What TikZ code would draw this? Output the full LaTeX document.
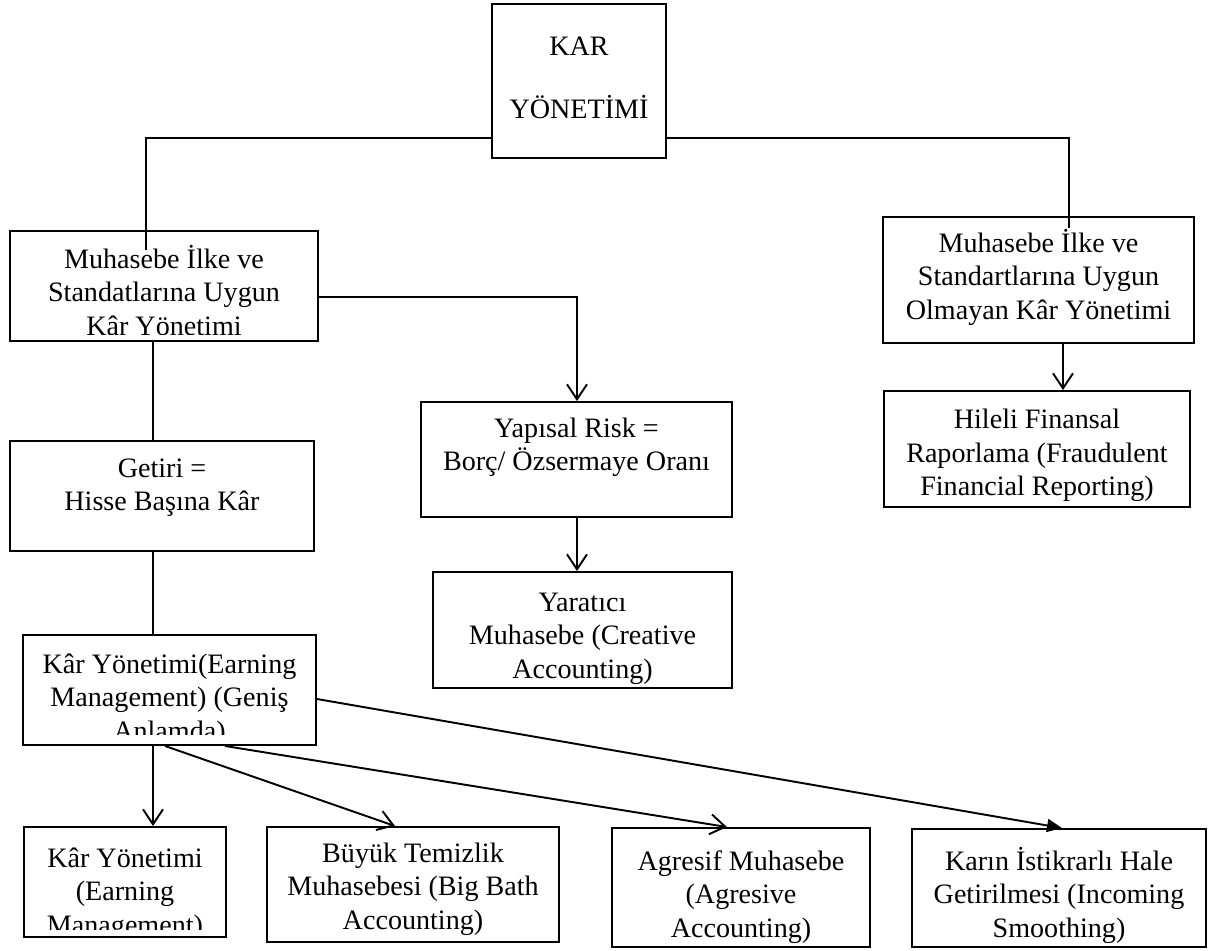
\documentclass[tikz,border=0pt]{standalone}
\usepackage{fontspec}
\setmainfont{Liberation Serif}
\usetikzlibrary{arrows.meta,fit,calc}
\newcommand\tstrut{\rule{0pt}{14pt}}
\begin{document}
\begin{tikzpicture}[x=0.02cm,y=-0.02cm,
 box/.style={draw,line width=1.1pt,inner sep=0pt},
 txt/.style={anchor=north,inner sep=0pt,align=center,font=\fontsize{16pt}{19pt}\selectfont},
 conn/.style={line width=1.1pt},
 openarr/.style={conn,-{Straight Barb[length=3mm,width=4mm]}},
 fillarr/.style={conn,-{Triangle[length=3mm,width=2.6mm]}}]
\useasboundingbox (0,0) rectangle (1212,950);
% boxes
\node[box,fit={(492,4)(666,158)}] (T) {};
\node[box,fit={(10,231)(318,341)}] (A) {};
\node[box,fit={(883,217)(1194,343)}] (B) {};
\node[box,fit={(421,402)(732,517)}] (C) {};
\node[box,fit={(433,572)(732,688)}] (D) {};
\node[box,fit={(884,391)(1190,507)}] (F) {};
\node[box,fit={(10,441)(314,551)}] (G) {};
\node[box,fit={(23,635)(316,745)}] (H) {};
\node[box,fit={(24,827)(226,937)}] (I) {};
\node[box,fit={(267,827)(559,942)}] (J) {};
\node[box,fit={(612,828)(870,947)}] (K) {};
\node[box,fit={(912,829)(1206,947)}] (L) {};
% texts
\node[txt] (Tt) at (579,30.4) {\tstrut KAR\\[17pt]YÖNETİMİ};
\begin{scope}
\clip (10,231) rectangle (318,334);
\node[txt] (At) at (164,243.4) {\tstrut Muhasebe İlke ve\\Standatlarına Uygun\\Kâr Yönetimi};
\end{scope}
\node[txt] (Bt) at (1038.5,227.4) {\tstrut Muhasebe İlke ve\\Standartlarına Uygun\\Olmayan Kâr Yönetimi};
\node[txt] (Ct) at (576.5,412.4) {\tstrut Yapısal Risk =\\Borç/ Özsermaye Oranı};
\node[txt] (Dt) at (582.5,586.4) {\tstrut Yaratıcı\\Muhasebe (Creative\\Accounting)};
\node[txt] (Ft) at (1037,404) {\tstrut Hileli Finansal\\Raporlama (Fraudulent\\Financial Reporting)};
\node[txt] (Gt) at (162,452.4) {\tstrut Getiri =\\Hisse Başına Kâr};
\begin{scope}
\clip (23,635) rectangle (316,734);
\node[txt] (Ht) at (169.5,648.4) {\tstrut Kâr Yönetimi(Earning\\Management) (Geniş\\Anlamda)};
\end{scope}
\begin{scope}
\clip (24,827) rectangle (226,929);
\node[txt] (It) at (125,842.4) {\tstrut Kâr Yönetimi\\(Earning\\Management)};
\end{scope}
\node[txt] (Jt) at (413,837.4) {\tstrut Büyük Temizlik\\Muhasebesi (Big Bath\\Accounting)};
\node[txt] (Kt) at (741,845.4) {\tstrut Agresif Muhasebe\\(Agresive\\Accounting)};
\node[txt] (Lt) at (1059,845.4) {\tstrut Karın İstikrarlı Hale\\Getirilmesi (Incoming\\Smoothing)};
% connectors
\coordinate (aend) at (146,250);
\coordinate (bend) at (1069,228);
\draw[conn] (T.west |- 0,138) -| (aend);
\draw[conn] (T.east |- 0,138) -| (bend);
\draw[openarr] (A.east |- 0,297) -| (577,0 |- C.north);
\draw[conn] (153,0 |- A.south) -- (153,0 |- G.north);
\draw[conn] (153,0 |- G.south) -- (153,0 |- H.north);
\draw[openarr] (577,0 |- C.south) -- (577,0 |- D.north);
\draw[openarr] (1063,0 |- B.south) -- (1063,0 |- F.north);
\draw[openarr] (153,0 |- H.south) -- (153,0 |- I.north);
\draw[openarr] (165,0 |- H.south) -- (395,0 |- J.north);
\draw[openarr] (225,0 |- H.south) -- (727,0 |- K.north);
\draw[fillarr] (H.east |- 0,699) -- (1062,0 |- L.north);
\end{tikzpicture}
\end{document}
